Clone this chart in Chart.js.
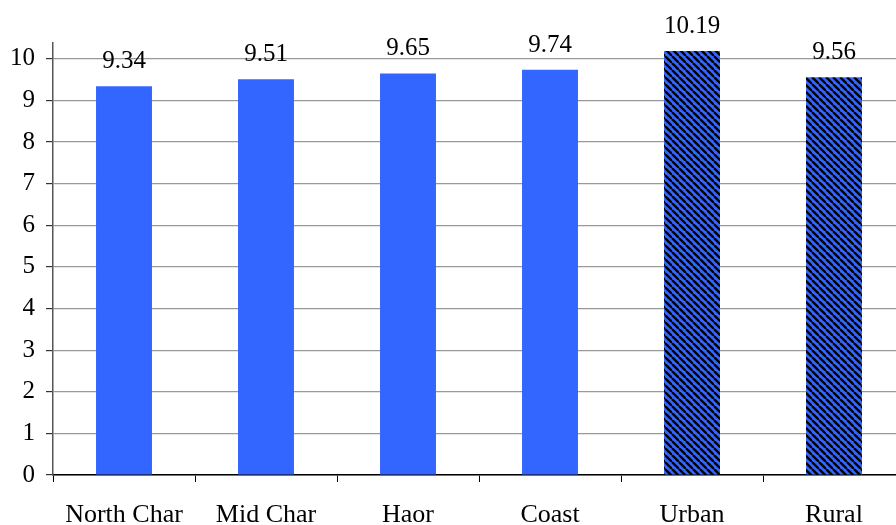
<!DOCTYPE html>
<html>
<head>
<meta charset="utf-8">
<script src="https://cdn.jsdelivr.net/npm/chart.js@4/dist/chart.umd.min.js"></script>
<style>
  html, body { margin: 0; padding: 0; background: #fff; overflow: hidden; }
  #wrap { width: 912px; height: 525px; }
</style>
</head>
<body>
<div id="wrap"><canvas id="c" width="912" height="525"></canvas></div>
<script>
// Regions and their values
const categories = ['North Char', 'Mid Char', 'Haor', 'Coast', 'Urban', 'Rural'];
const values = [9.34, 9.51, 9.65, 9.74, 10.19, 9.56];
const hatched = [false, false, false, false, true, true];
const yTicks = [0, 1, 2, 3, 4, 5, 6, 7, 8, 9, 10];

const BLUE = '#3366ff';

// Diagonal blue/black stripe pattern for the area-type bars
function makeHatch() {
  const s = 7;
  const t = document.createElement('canvas');
  t.width = s; t.height = s;
  const g = t.getContext('2d');
  g.fillStyle = BLUE;
  g.fillRect(0, 0, s, s);
  g.strokeStyle = '#000';
  g.lineWidth = 2.3;
  for (const o of [-s, 0, s]) {
    g.beginPath();
    g.moveTo(o, 0);
    g.lineTo(o + s, s);
    g.stroke();
  }
  return g.createPattern(t, 'repeat');
}
const ctx0 = document.getElementById('c').getContext('2d');
const hatch = makeHatch();
const fills = hatched.map(h => h ? hatch : BLUE);

const FONT = "'Liberation Serif', 'Times New Roman', serif";

// Value written above each bar
const valueLabels = {
  id: 'valueLabels',
  afterDatasetsDraw(chart) {
    const ctx = chart.ctx;
    const meta = chart.getDatasetMeta(0);
    ctx.save();
    ctx.font = '25px ' + FONT;
    ctx.fillStyle = '#000';
    ctx.textAlign = 'center';
    ctx.textBaseline = 'alphabetic';
    meta.data.forEach((bar, i) => {
      ctx.fillText(values[i].toFixed(2), bar.x, bar.y - 18);
    });
    ctx.restore();
  }
};

new Chart(ctx0, {
  type: 'bar',
  data: {
    labels: categories,
    datasets: [{
      data: values,
      backgroundColor: fills,
      borderWidth: 0,
      categoryPercentage: 1,
      barPercentage: 0.394
    }]
  },
  options: {
    responsive: false,
    animation: false,
    devicePixelRatio: 1,
    layout: { padding: { top: 43, right: 7, left: 0, bottom: 0 } },
    plugins: { legend: { display: false }, tooltip: { enabled: false } },
    scales: {
      x: {
        grid: {
          offset: true,
          drawOnChartArea: false,
          drawTicks: true,
          tickLength: 7,
          color: '#000'
        },
        border: { color: '#000', width: 1.5 },
        ticks: {
          color: '#000',
          font: { family: FONT, size: 26 },
          padding: 18,
          maxRotation: 0
        },
        afterFit(s) { s.height = 50; }
      },
      y: {
        min: 0,
        max: 10.38,
        afterBuildTicks(s) { s.ticks = yTicks.map(v => ({ value: v })); },
        grid: {
          color: '#999',
          lineWidth: 1.2,
          tickLength: 7,
          tickColor: '#333'
        },
        border: { color: '#555', width: 1.5 },
        ticks: {
          color: '#000',
          font: { family: FONT, size: 25 },
          padding: 11
        },
        afterFit(s) { s.width = 53; }
      }
    }
  },
  plugins: [valueLabels]
});
</script>
</body>
</html>
